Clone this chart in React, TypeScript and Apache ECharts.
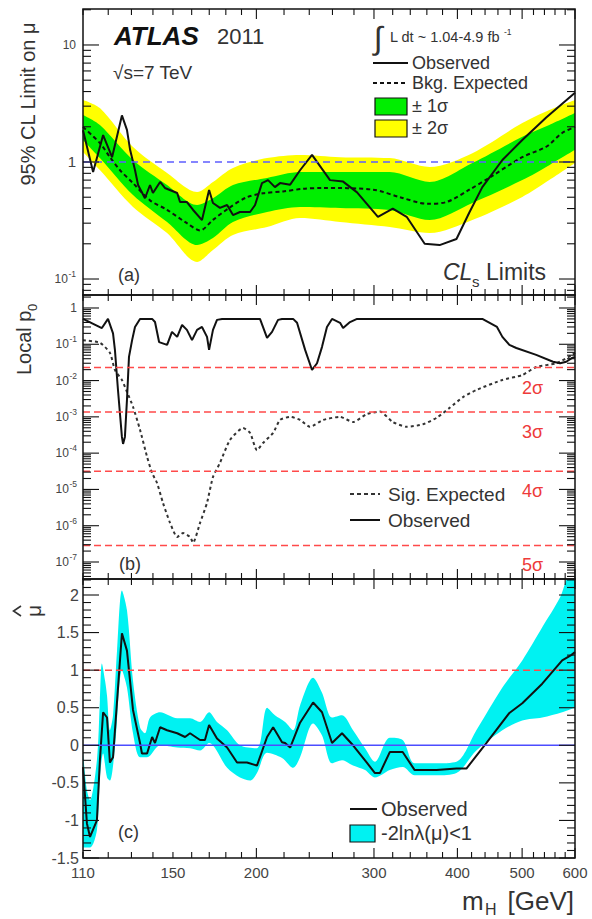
import React, { useEffect, useRef } from "react";
import * as echarts from "echarts";

const FONT = '"Liberation Sans", Arial, Helvetica, sans-serif';

// ---------------- shared x axis ----------------
const massRange: [number, number] = [110, 600];
const xTickLabels = [110, 150, 200, 300, 400, 500, 600];
const xMajorTicks = [200, 300, 400, 500, 600];

// ---------------- (a) 95% CL limit on mu ----------------
const limitRange: [number, number] = [0.073, 20.3];
const limitTickLabels = [
  { v: 10, base: "10", sup: "" },
  { v: 1, base: "1", sup: "" },
  { v: 0.1, base: "10", sup: "-1" },
];
const limitObserved: [number, number][] = [
  [110, 1.87], [113.9, 0.82], [117.9, 1.7], [121.6, 1.1], [125.8, 2.5], [128.0, 1.88],
  [129.4, 1.27], [131.6, 0.854], [133.0, 0.636], [136.2, 0.49], [138.6, 0.636], [140.0, 0.543],
  [143.5, 0.675], [145.9, 0.6], [152.2, 0.543], [153.7, 0.455], [157.4, 0.455], [160.8, 0.389],
  [165.8, 0.319], [169.9, 0.576], [172.2, 0.446], [176.4, 0.405], [180.8, 0.429], [184.5, 0.352],
  [189.0, 0.374], [195.7, 0.374], [199.1, 0.429], [203.9, 0.66], [208.2, 0.7], [213.2, 0.61],
  [217.0, 0.66], [224.7, 0.64], [232.5, 0.85], [242.3, 1.15], [257.8, 0.7], [269.7, 0.68],
  [283.0, 0.55], [304.1, 0.34], [320.1, 0.4], [335.8, 0.34], [357.3, 0.2], [376.2, 0.195],
  [398.7, 0.22], [416.8, 0.37], [435.9, 0.61], [467.1, 1.04], [500.3, 1.54], [543.3, 2.4], [600, 3.9],
];
const limitExpected: [number, number][] = [
  [110, 1.99], [116.6, 1.45], [120.7, 1.1], [125.0, 0.85], [130.7, 0.66], [138.6, 0.47],
  [147.0, 0.39], [157.4, 0.3], [164.7, 0.26], [172.2, 0.32], [182.6, 0.41], [193.6, 0.5],
  [204.6, 0.54], [219.2, 0.56], [235.0, 0.59], [251.6, 0.6], [299, 0.58], [328.2, 0.5],
  [360.2, 0.44], [385.3, 0.455], [416.8, 0.58], [447.6, 0.74], [500.3, 1.1], [543.3, 1.35],
  [574.1, 1.77], [600, 2.0],
];
const bandMasses = [110, 116.6, 130.7, 147.0, 163.0, 172.2, 184.5, 207.5, 232.5, 266.9, 316.8, 363.5, 421.2, 500.3, 549.0, 600];
const band2Upper = [3.39, 2.89, 1.34, 0.805, 0.554, 0.675, 0.89, 1.08, 1.15, 1.1, 1.08, 0.906, 1.19, 2.15, 2.78, 3.39];
const band1Upper = [2.52, 2.07, 1.04, 0.636, 0.429, 0.49, 0.636, 0.73, 0.82, 0.82, 0.82, 0.675, 0.98, 1.64, 2.07, 2.62];
const band1Lower = [1.54, 1.08, 0.522, 0.307, 0.195, 0.224, 0.307, 0.374, 0.413, 0.405, 0.389, 0.319, 0.446, 0.7, 0.94, 1.27];
const band2Lower = [1.22, 0.854, 0.413, 0.247, 0.14, 0.177, 0.238, 0.278, 0.332, 0.307, 0.278, 0.247, 0.319, 0.502, 0.7, 0.98];

// ---------------- (b) local p0 ----------------
const p0Range: [number, number] = [3.4e-8, 2.28];
const p0LabelExponents = [0, -1, -2, -3, -4, -5, -6, -7];
const sigmaPValues = [0.02275, 0.00135, 3.17e-5, 2.87e-7];
const sigmaNames = ["2σ", "3σ", "4σ", "5σ"];
const p0Observed: [number, number][] = [
  [110, 0.5], [117.4, 0.28], [119.9, 0.5], [122.0, 0.2], [122.8, 0.07], [124.1, 0.0055],
  [125.8, 2.8e-4], [126.3, 1.8e-4], [127.1, 2.8e-4], [128.0, 2.9e-3], [128.9, 0.045], [130.3, 0.13],
  [131.6, 0.3], [133.9, 0.5], [139.6, 0.5], [141.0, 0.41], [143.0, 0.115], [147.0, 0.096],
  [149.5, 0.22], [152.2, 0.16], [154.8, 0.34], [157.4, 0.25], [160.2, 0.13], [163.0, 0.25],
  [165.8, 0.3], [168.7, 0.16], [169.9, 0.07], [172.2, 0.25], [174.6, 0.47], [177.7, 0.5],
  [202.5, 0.5], [207.5, 0.15], [211.1, 0.22], [215.5, 0.47], [218.5, 0.5], [227.0, 0.5],
  [230.1, 0.39], [236.6, 0.07], [242.3, 0.0196], [246.5, 0.03], [250.8, 0.085], [255.1, 0.3],
  [259.6, 0.5], [266.9, 0.39], [269.7, 0.28], [276.2, 0.41], [283.0, 0.5], [435.9, 0.5],
  [458.5, 0.3], [467.1, 0.16], [478.5, 0.096], [490.1, 0.079], [524.9, 0.051], [556.2, 0.033],
  [570, 0.03], [582.1, 0.033], [594.2, 0.042], [600, 0.045],
];
const p0Expected: [number, number][] = [
  [110, 0.13], [116.6, 0.11], [120.7, 0.058], [122.8, 0.0196], [125.8, 0.0104], [128.0, 0.0049],
  [130.7, 1.9e-3], [133.9, 4.4e-4], [137.2, 7.9e-5], [139.6, 2.8e-5], [142.0, 1.5e-5], [144.9, 4.3e-6],
  [148.5, 1.2e-6], [152.2, 4.9e-7], [155.3, 6.3e-7], [159.1, 4.9e-7], [160.8, 3.4e-7], [164.7, 1.2e-6],
  [168.7, 4.3e-6], [172.2, 2.2e-5], [176.4, 5.4e-5], [182.6, 2.3e-4], [191.0, 4.9e-4], [195.7, 3.6e-4],
  [200.4, 1.2e-4], [204.6, 1.9e-4], [211.9, 3.6e-4], [217.0, 8.2e-4], [224.7, 1e-3], [232.5, 8.2e-4],
  [240.6, 5.3e-4], [251.6, 8.2e-4], [266.9, 1e-3], [279.1, 7.2e-4], [292.9, 1.2e-3], [306.2, 1.4e-3],
  [320.1, 7.2e-4], [335.8, 5.3e-4], [354.8, 6.2e-4], [372.3, 9.4e-4], [389.9, 1.8e-3], [407.8, 3.5e-3],
  [427.0, 5.5e-3], [467.1, 0.0104], [500.3, 0.0142], [524.9, 0.0236], [562.4, 0.03], [594.2, 0.051],
  [600, 0.058],
];

// ---------------- (c) best-fit mu ----------------
const muRange: [number, number] = [-1.5, 2.213];
const muTickLabels = [2, 1.5, 1, 0.5, 0, -0.5, -1, -1.5];
const muReferenceLines = [1, 0];
const muObserved: [number, number][] = [
  [110, -0.29], [111.5, -1.04], [112.7, -1.22], [115.4, -1.0], [116.6, -0.2], [117.9, 0.44],
  [119.5, 0.37], [120.7, -0.23], [122.0, -0.16], [125.8, 1.49], [128.0, 1.26], [130.7, 0.47],
  [133.9, 0.03], [134.8, -0.11], [137.2, -0.11], [139.6, 0.11], [141.0, 0.03], [143.5, 0.24],
  [147.0, 0.2], [152.2, 0.16], [156.4, 0.11], [159.1, 0.16], [164.7, 0.07], [167.5, 0.07],
  [169.9, 0.27], [174.6, 0.09], [180.8, -0.03], [187.1, -0.23], [193.6, -0.23], [200.4, -0.27],
  [207.5, 0.11], [211.9, 0.24], [218.5, 0.04], [220.8, 0.03], [224.7, -0.03], [232.5, 0.3],
  [243.2, 0.57], [250.8, 0.44], [259.6, 0.03], [268.7, 0.16], [279.1, 0.0], [290.9, -0.2],
  [301.0, -0.37], [306.2, -0.37], [316.8, -0.09], [331.2, -0.09], [345.2, -0.33], [372.3, -0.33],
  [398.7, -0.31], [412.6, -0.31], [441.9, 0.03], [478.5, 0.43], [500.3, 0.56], [535.9, 0.82],
  [574.1, 1.13], [592.2, 1.2], [600, 1.24],
];
const muUpper: [number, number][] = [
  [110, -0.1], [111.5, -0.6], [112.7, -0.73], [115.4, -0.2], [116.6, 0.6], [117.4, 1.09],
  [118.7, 0.86], [119.5, 0.66], [120.7, 0.2], [122.0, 0.4], [123.7, 1.26], [125.8, 2.06],
  [128.0, 1.8], [130.7, 0.86], [133.9, 0.24], [136.2, 0.16], [138.6, 0.37], [143.5, 0.44],
  [152.2, 0.36], [159.1, 0.36], [164.7, 0.31], [169.9, 0.44], [174.6, 0.31], [180.8, 0.2],
  [189.0, 0.0], [200.4, -0.04], [207.5, 0.5], [213.2, 0.4], [220.8, 0.31], [227.0, 0.2],
  [232.5, 0.53], [243.2, 0.9], [250.8, 0.7], [259.6, 0.37], [268.7, 0.4], [279.1, 0.2],
  [290.9, -0.04], [301.0, -0.22], [316.8, 0.1], [331.2, 0.07], [345.2, -0.24], [372.3, -0.24],
  [398.7, -0.22], [427.0, 0.2], [467.1, 0.77], [500.3, 1.13], [535.9, 1.57], [570, 1.97],
  [582.1, 2.2], [600, 2.46],
];
const muLower: [number, number][] = [
  [110, -1.36], [112.7, -1.36], [115.4, -1.13], [116.6, -0.43], [117.9, -0.11], [119.5, -0.43],
  [120.7, -0.47], [122.8, -0.03], [125.8, 1.0], [128.0, 0.77], [130.7, 0.16], [133.9, -0.16],
  [137.2, -0.16], [143.5, 0.0], [152.2, -0.03], [159.1, -0.04], [164.7, -0.07], [169.9, 0.03],
  [180.8, -0.3], [189.0, -0.43], [195.7, -0.47], [200.4, -0.37], [207.5, -0.1], [218.5, -0.17],
  [227.0, -0.3], [232.5, -0.16], [243.2, 0.29], [250.8, 0.13], [259.6, -0.24], [268.7, -0.2],
  [279.1, -0.27], [290.9, -0.33], [301.0, -0.43], [316.8, -0.33], [331.2, -0.29], [345.2, -0.4],
  [372.3, -0.4], [398.7, -0.37], [427.0, -0.07], [467.1, 0.2], [500.3, 0.33], [535.9, 0.37],
  [574.1, 0.44], [600, 0.5],
];

// ---------------- helpers ----------------
const zip = (xs: number[], ys: number[]) => xs.map((x, i) => [x, ys[i]] as [number, number]);

function logTicks(range: [number, number]) {
  const out: { v: number; major: boolean }[] = [];
  for (let e = -9; e <= 2; e++) {
    for (let k = 1; k <= 9; k++) {
      const v = k * Math.pow(10, e);
      if (v >= range[0] * 0.999 && v <= range[1] * 1.001) out.push({ v, major: k === 1 });
    }
  }
  return out;
}
function linTicks(range: [number, number]) {
  const out: { v: number; major: boolean }[] = [];
  for (let i = Math.ceil(range[0] * 10 - 1e-6); i <= Math.floor(range[1] * 10 + 1e-6); i++) {
    out.push({ v: i / 10, major: i % 5 === 0 });
  }
  return out;
}
const xTickValues: number[] = [];
for (let m = 110; m <= 200; m += 10) xTickValues.push(m);
for (let m = 220; m <= 600; m += 20) xTickValues.push(m);

function txt(x: number, y: number, text: string, size: number, o: any = {}) {
  const align = o.align || "left";
  const va = o.va || "middle";
  return {
    type: "text",
    x,
    y,
    z: 100,
    silent: true,
    rotation: o.rotation || 0,
    style: {
      text,
      fill: o.color || "#222",
      fontSize: size,
      fontFamily: FONT,
      fontWeight: o.weight || "normal",
      fontStyle: o.italic ? "italic" : "normal",
      align,
      verticalAlign: va,
      textAlign: align,
      textVerticalAlign: va,
    },
  };
}

type YLabel = { v: number; base: string; sup: string; size: number };
type HLine = { v: number; color: string; dash: number[] | null };

function frameSeries(idx: number, opts: {
  yRef: number;
  yTicks: { v: number; major: boolean }[];
  yLabels: YLabel[];
  labelGap: number;
  xLabels?: number[];
  sigma?: boolean;
  hLines?: HLine[];
}) {
  return {
    type: "custom",
    xAxisIndex: idx,
    yAxisIndex: idx,
    z: 20,
    silent: true,
    clip: false,
    data: [[massRange[0], opts.yRef]],
    encode: { x: 0, y: 1 },
    renderItem: (params: any, api: any) => {
      const cs = params.coordSys;
      const L = cs.x, R = cs.x + cs.width, T = cs.y, B = cs.y + cs.height;
      const ch: any[] = [];
      const ln = (x1: number, y1: number, x2: number, y2: number, w = 1.1, color = "#111", dash: number[] | null = null) => ({
        type: "line",
        shape: { x1, y1, x2, y2 },
        style: { stroke: color, lineWidth: w, lineDash: dash },
      });
      (opts.hLines || []).forEach((h) => {
        const y = api.coord([massRange[0], h.v])[1];
        ch.push(ln(L, y, R, y, 1.5, h.color, h.dash));
      });
      xTickValues.forEach((m) => {
        const x = api.coord([m, opts.yRef])[0];
        const len = xMajorTicks.indexOf(m) >= 0 ? 10 : 6;
        ch.push(ln(x, B, x, B - len), ln(x, T, x, T + len));
      });
      opts.yTicks.forEach((t) => {
        const y = api.coord([massRange[0], t.v])[1];
        const len = t.major ? 16 : 8;
        ch.push(ln(L, y, L + len, y), ln(R, y, R - len, y));
      });
      ch.push({
        type: "rect",
        shape: { x: L, y: T, width: cs.width, height: cs.height },
        style: { fill: "none", stroke: "#111", lineWidth: 1.5 },
      });
      opts.yLabels.forEach((lab) => {
        const y = api.coord([massRange[0], lab.v])[1];
        const xr = L - opts.labelGap;
        if (lab.sup) {
          const supSize = 8.5;
          let w = 0;
          for (const c of lab.sup) w += (c === "-" ? 0.4 : 0.556) * supSize;
          ch.push(txt(xr, y - 5, lab.sup, supSize, { align: "right", color: "#444" }));
          ch.push(txt(xr - w, y, lab.base, lab.size, { align: "right", color: "#444" }));
        } else {
          ch.push(txt(xr, y, lab.base, lab.size, { align: "right", color: "#444" }));
        }
      });
      if (opts.xLabels) {
        opts.xLabels.forEach((m) => {
          const x = api.coord([m, opts.yRef])[0];
          ch.push(txt(x, B + 14, String(m), 15, { align: "center", color: "#444" }));
        });
      }
      if (opts.sigma) {
        sigmaPValues.forEach((p, i) => {
          const y = api.coord([massRange[0], p])[1];
          ch.push(txt(R - 53, y + 20, sigmaNames[i], 18, { color: "#ee3a3a" }));
        });
      }
      return { type: "group", children: ch };
    },
  };
}

function areaLayer(idx: number, data: [number, number][], color: string, z: number) {
  return {
    type: "line",
    xAxisIndex: idx,
    yAxisIndex: idx,
    data,
    z,
    silent: true,
    showSymbol: false,
    symbol: "none",
    smooth: 0.3,
    lineStyle: { width: 0, color },
    areaStyle: { color, opacity: 1, origin: "start" },
  };
}

function buildOption() {
  const hidden = {
    axisLine: { show: false },
    axisTick: { show: false },
    axisLabel: { show: false },
    splitLine: { show: false },
    minorTick: { show: false },
    minorSplitLine: { show: false },
  };
  const grids = [
    { left: 83, top: 9, width: 492, height: 286 },
    { left: 83, top: 295, width: 492, height: 284 },
    { left: 83, top: 579, width: 492, height: 279 },
  ];
  const xAxes = [0, 1, 2].map((i) => ({
    gridIndex: i,
    type: "log",
    logBase: 10,
    min: massRange[0],
    max: massRange[1],
    ...hidden,
  }));
  const yAxes = [
    { gridIndex: 0, type: "log", logBase: 10, min: limitRange[0], max: limitRange[1], ...hidden },
    { gridIndex: 1, type: "log", logBase: 10, min: p0Range[0], max: p0Range[1], ...hidden },
    { gridIndex: 2, type: "value", min: muRange[0], max: muRange[1], ...hidden },
  ];

  const p0Labels: YLabel[] = p0LabelExponents.map((e) => ({
    v: Math.pow(10, e),
    base: e === 0 ? "1" : "10",
    sup: e === 0 ? "" : String(e),
    size: 12,
  }));
  const limitLabels: YLabel[] = limitTickLabels.map((l) => ({ ...l, size: l.base === "1" ? 15 : 12 }));
  const muLabels: YLabel[] = muTickLabels.map((v) => ({ v, base: String(v), sup: "", size: 16 }));

  const series: any[] = [
    // (a) bands
    areaLayer(0, zip(bandMasses, band2Upper), "#ffff00", 1),
    areaLayer(0, zip(bandMasses, band1Upper), "#00ee00", 2),
    areaLayer(0, zip(bandMasses, band1Lower), "#ffff00", 3),
    areaLayer(0, zip(bandMasses, band2Lower), "#ffffff", 4),
    {
      type: "line", xAxisIndex: 0, yAxisIndex: 0, data: limitExpected, z: 6, silent: true,
      showSymbol: false, symbol: "none", smooth: 0.3,
      lineStyle: { color: "#111", width: 2, type: [4, 3] },
    },
    {
      type: "line", xAxisIndex: 0, yAxisIndex: 0, data: limitObserved, z: 7, silent: true,
      showSymbol: false, symbol: "none",
      lineStyle: { color: "#111", width: 2 },
    },
    frameSeries(0, {
      yRef: 1, yTicks: logTicks(limitRange), yLabels: limitLabels, labelGap: 7,
      hLines: [{ v: 1, color: "#5d5dff", dash: [7, 5] }],
    }),

    // (b)
    {
      type: "line", xAxisIndex: 1, yAxisIndex: 1, data: p0Expected, z: 6, silent: true,
      showSymbol: false, symbol: "none", smooth: 0.2,
      lineStyle: { color: "#333", width: 2, type: [3, 3] },
    },
    {
      type: "line", xAxisIndex: 1, yAxisIndex: 1, data: p0Observed, z: 7, silent: true,
      showSymbol: false, symbol: "none",
      lineStyle: { color: "#111", width: 2 },
    },
    frameSeries(1, {
      yRef: 1, yTicks: logTicks(p0Range), yLabels: p0Labels, labelGap: 6, sigma: true,
      hLines: sigmaPValues.map((p) => ({ v: p, color: "#ff4a4a", dash: [7, 4] })),
    }),

    // (c)
    areaLayer(2, muUpper, "#00f2f2", 1),
    areaLayer(2, muLower, "#ffffff", 2),
    {
      type: "line", xAxisIndex: 2, yAxisIndex: 2, data: muObserved, z: 7, silent: true,
      showSymbol: false, symbol: "none",
      lineStyle: { color: "#111", width: 2 },
    },
    frameSeries(2, {
      yRef: 0, yTicks: linTicks(muRange), yLabels: muLabels, labelGap: 4, xLabels: xTickLabels,
      hLines: [
        { v: muReferenceLines[0], color: "#ff4a4a", dash: [7, 4] },
        { v: muReferenceLines[1], color: "#4d4dff", dash: null },
      ],
    }),
  ];

  const ln = (x1: number, y1: number, x2: number, y2: number, dash?: number[], color = "#111") => ({
    type: "line", z: 100, silent: true,
    shape: { x1, y1, x2, y2 },
    style: { stroke: color, lineWidth: 2, lineDash: dash || null },
  });
  const box = (x: number, y: number, w: number, h: number, fill: string) => ({
    type: "rect", z: 100, silent: true,
    shape: { x, y, width: w, height: h },
    style: { fill, stroke: "#111", lineWidth: 1.2 },
  });

  const graphic: any[] = [
    // axis titles
    txt(28, 104, "95% CL Limit on μ", 20, { align: "center", rotation: Math.PI / 2, color: "#333" }),
    {
      type: "group", x: 24, y: 339, rotation: Math.PI / 2, z: 100,
      children: [
        txt(-36, 0, "Local p", 20, { color: "#333" }),
        txt(28, 8, "0", 13, { color: "#333" }),
      ],
    },
    txt(33, 611, "μ", 21, { align: "center", rotation: Math.PI / 2, color: "#333" }),
    {
      type: "polyline", z: 100, silent: true,
      shape: { points: [[21, 606], [13.5, 611], [21, 616]] },
      style: { stroke: "#333", lineWidth: 1.6, fill: "none" },
    },
    txt(462, 901, "m", 26, { color: "#333" }),
    txt(485, 909, "H", 16, { color: "#333" }),
    txt(574, 901, "[GeV]", 26, { align: "right", color: "#333" }),

    // (a) decorations
    txt(114, 36, "ATLAS", 26, { weight: "bold", italic: true, color: "#111" }),
    txt(217, 36, "2011", 22, { color: "#333" }),
    txt(113, 72, "√s=7 TeV", 19, { color: "#333" }),
    txt(378, 38, "∫", 32, { align: "center", color: "#333" }),
    txt(390, 37, "L dt ~ 1.04-4.9 fb", 14.5, { color: "#333" }),
    txt(504, 32, "-1", 8.5, { color: "#333" }),
    ln(373, 63, 408, 63),
    txt(412, 63, "Observed", 18, { color: "#333" }),
    ln(373, 83, 408, 83, [4, 3]),
    txt(412, 83, "Bkg. Expected", 18, { color: "#333" }),
    box(375, 98, 32, 17, "#00ee00"),
    txt(412, 106, "± 1σ", 18, { color: "#333" }),
    box(375, 120, 32, 17, "#ffff00"),
    txt(412, 128, "± 2σ", 18, { color: "#333" }),
    txt(118, 275, "(a)", 18, { color: "#333" }),
    txt(443, 272, "CL", 23, { italic: true, color: "#333" }),
    txt(472, 281, "s", 15, { color: "#333" }),
    txt(486, 272, "Limits", 23, { color: "#333" }),

    // (b) decorations
    ln(350, 494, 380, 494, [4, 3], "#333"),
    txt(388, 494, "Sig. Expected", 19, { color: "#333" }),
    ln(350, 520, 380, 520),
    txt(388, 520, "Observed", 19, { color: "#333" }),
    txt(119, 564, "(b)", 18, { color: "#333" }),

    // (c) decorations
    ln(350, 809, 377, 809),
    txt(381, 809, "Observed", 20, { color: "#333" }),
    box(350, 825, 25, 17, "#00f2f2"),
    txt(381, 833, "-2lnλ(μ)<1", 20, { color: "#333" }),
    txt(118, 832, "(c)", 18, { color: "#333" }),
  ];

  return {
    animation: false,
    backgroundColor: "#ffffff",
    grid: grids,
    xAxis: xAxes,
    yAxis: yAxes,
    series,
    graphic,
  };
}

export default function App() {
  const ref = useRef<HTMLDivElement>(null);
  useEffect(() => {
    const chart = echarts.init(ref.current as HTMLDivElement, null, { renderer: "svg" });
    chart.setOption(buildOption() as any);
    return () => chart.dispose();
  }, []);
  return (
    <div
      ref={ref}
      style={{ position: "absolute", left: 0, top: 0, width: 592, height: 919, background: "#fff" }}
    />
  );
}
